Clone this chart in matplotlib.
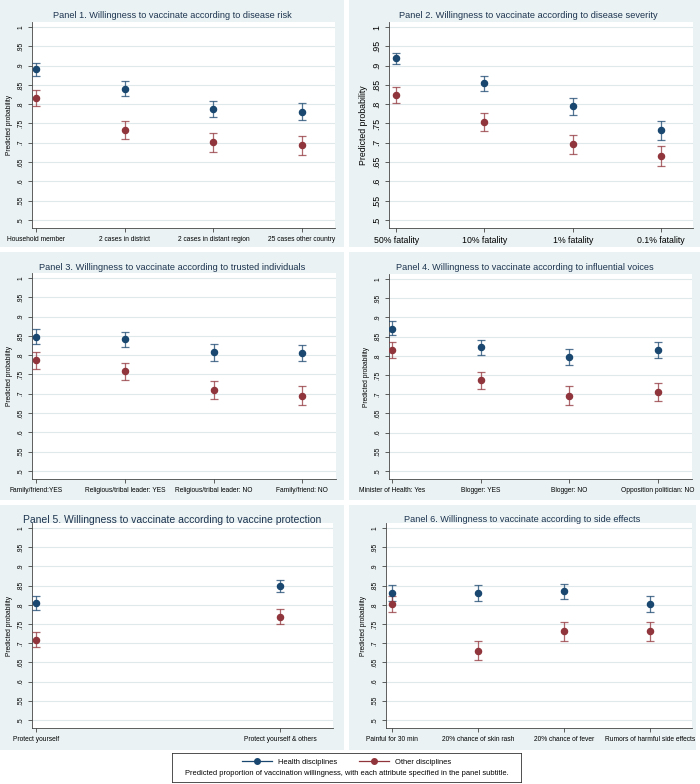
import matplotlib
matplotlib.use("Agg")
import matplotlib.pyplot as plt
from matplotlib.patches import Rectangle
from matplotlib.lines import Line2D

plt.rcParams['font.family'] = ['Liberation Sans', 'DejaVu Sans']

NAVY = '#1a476f'
MAROON = '#90353b'
BG = '#eaf2f3'
GRID = '#dfe8eb'

yticks = [0.5, 0.55, 0.6, 0.65, 0.7, 0.75, 0.8, 0.85, 0.9, 0.95, 1.0]
ytick_labels = ['.5', '.55', '.6', '.65', '.7', '.75', '.8', '.85', '.9', '.95', '1']

titles = [
    'Panel 1. Willingness to vaccinate according to disease risk',
    'Panel 2. Willingness to vaccinate according to disease severity',
    'Panel 3. Willingness to vaccinate according to trusted individuals',
    'Panel 4. Willingness to vaccinate according to influential voices',
    'Panel 5. Willingness to vaccinate according to vaccine protection',
    'Panel 6. Willingness to vaccinate according to side effects',
]

cats = [
    ['Household member', '2 cases in district', '2 cases in distant region', '25 cases other country'],
    ['50% fatality', '10% fatality', '1% fatality', '0.1% fatality'],
    ['Family/friend:YES', 'Religious/tribal leader: YES', 'Religious/tribal leader: NO', 'Family/friend: NO'],
    ['Minister of Health: Yes', 'Blogger: YES', 'Blogger: NO', 'Opposition politician: NO'],
    ['Protect yourself', 'Protect yourself & others'],
    ['Painful for 30 min', '20% chance of skin rash', '20% chance of fever', 'Rumors of harmful side effects'],
]

# health disciplines: estimate, lower, upper
health = [
    [0.890, 0.840, 0.788, 0.780],
    [0.919, 0.854, 0.795, 0.732],
    [0.848, 0.841, 0.807, 0.805],
    [0.871, 0.822, 0.797, 0.816],
    [0.804, 0.848],
    [0.830, 0.830, 0.835, 0.803],
]
health_lo = [
    [0.874, 0.820, 0.766, 0.758],
    [0.905, 0.835, 0.773, 0.708],
    [0.828, 0.822, 0.786, 0.784],
    [0.853, 0.802, 0.775, 0.794],
    [0.786, 0.832],
    [0.811, 0.811, 0.815, 0.781],
]
health_hi = [
    [0.907, 0.859, 0.809, 0.803],
    [0.933, 0.873, 0.817, 0.757],
    [0.867, 0.860, 0.828, 0.826],
    [0.890, 0.842, 0.818, 0.836],
    [0.822, 0.864],
    [0.851, 0.851, 0.854, 0.823],
]
other = [
    [0.815, 0.733, 0.701, 0.693],
    [0.824, 0.755, 0.697, 0.666],
    [0.787, 0.758, 0.711, 0.695],
    [0.815, 0.736, 0.696, 0.705],
    [0.709, 0.769],
    [0.802, 0.680, 0.731, 0.731],
]
other_lo = [
    [0.795, 0.709, 0.677, 0.668],
    [0.804, 0.731, 0.672, 0.640],
    [0.765, 0.735, 0.686, 0.670],
    [0.794, 0.713, 0.671, 0.681],
    [0.689, 0.749],
    [0.780, 0.655, 0.706, 0.706],
]
other_hi = [
    [0.836, 0.756, 0.725, 0.718],
    [0.845, 0.778, 0.721, 0.691],
    [0.809, 0.779, 0.734, 0.719],
    [0.836, 0.759, 0.720, 0.730],
    [0.729, 0.788],
    [0.823, 0.706, 0.754, 0.754],
]

# layout in pixels: background box, plot box (left, top, right, bottom), x limits
bg_boxes = [(0, 0, 344, 247), (349, 0, 700, 247),
            (0, 252, 344, 500), (349, 252, 700, 500),
            (0, 505, 344, 750), (349, 505, 696, 750)]
plot_boxes = [(32, 22, 335, 228), (389, 22, 693, 228),
              (32, 273, 336, 479), (389, 274, 692, 479),
              (32, 523, 333, 728), (386, 523, 692, 728)]
xlims = [(0.955, 4.372), (0.92, 4.36), (0.955, 4.38), (0.966, 4.383),
         (0.984, 2.217), (0.93, 4.49)]
title_fs = [6.6, 6.7, 6.65, 6.6, 7.5, 6.6]
title_dx = [0, 4, 0, 0, 0, 0]
tick_fs = [4.8, 6.3, 4.8, 4.8, 4.8, 4.8]
ylab_fs = [4.8, 6.3, 4.8, 4.8, 4.8, 4.8]

W, H = 700, 784
fig = plt.figure(figsize=(7, 7.84), dpi=100)


def px_axes(box):
    l, t, r, b = box
    return fig.add_axes([l / W, 1 - b / H, (r - l) / W, (b - t) / H])


for i in range(6):
    l, t, r, b = bg_boxes[i]
    fig.patches.append(Rectangle((l / W, 1 - b / H), (r - l) / W, (b - t) / H,
                                 transform=fig.transFigure, facecolor=BG,
                                 edgecolor='none', zorder=-10))

    ax = px_axes(plot_boxes[i])
    ax.set_facecolor('white')
    x = list(range(1, len(cats[i]) + 1))
    for vals, lo, hi, col in [(health[i], health_lo[i], health_hi[i], NAVY),
                              (other[i], other_lo[i], other_hi[i], MAROON)]:
        err = [[v - a for v, a in zip(vals, lo)], [c - v for v, c in zip(vals, hi)]]
        ax.errorbar(x, vals, yerr=err, fmt='none', ecolor=col, elinewidth=0.9,
                    capsize=2.7, capthick=0.9, alpha=0.75, zorder=3)
        ax.plot(x, vals, 'o', color=col, markersize=4.4, zorder=4)

    ax.set_xlim(*xlims[i])
    ax.set_ylim(0.479, 1.013)
    ax.set_yticks(yticks)
    ax.set_yticklabels(ytick_labels, rotation=90, va='center', fontsize=tick_fs[i])
    ax.set_xticks(x)
    ax.set_xticklabels(cats[i], fontsize=tick_fs[i])
    ax.grid(axis='y', color=GRID, linewidth=0.8)
    ax.set_axisbelow(True)
    for s in ['top', 'right']:
        ax.spines[s].set_visible(False)
    for s in ['left', 'bottom']:
        ax.spines[s].set_color('#444444')
        ax.spines[s].set_linewidth(0.6)
    ax.tick_params(length=3, width=0.6, color='#444444', pad=2.5)
    ax.set_ylabel('Predicted probability', fontsize=ylab_fs[i], labelpad=3)
    cx = (l + r) / 2 + title_dx[i]
    fig.text(cx / W, 1 - (t + 15) / H, titles[i], ha='center',
             va='center', fontsize=title_fs[i], color='#1e3550')

# legend box with note
lax = px_axes((172, 753, 521, 782))
lax.set_xticks([])
lax.set_yticks([])
lax.set_facecolor('white')
for s in lax.spines.values():
    s.set_color('#333333')
    s.set_linewidth(0.6)
handles = [Line2D([], [], color=NAVY, marker='o', markersize=4, linewidth=0.9),
           Line2D([], [], color=MAROON, marker='o', markersize=4, linewidth=0.9)]
lax.legend(handles, ['Health disciplines', 'Other disciplines'], ncol=2,
           loc='upper center', bbox_to_anchor=(0.5, 1.04), frameon=False,
           fontsize=5.4, handlelength=4, columnspacing=3)
lax.text(0.5, 0.3, 'Predicted proportion of vaccination willingness, with each attribute specified in the panel subtitle.',
         ha='center', va='center', fontsize=5.4, transform=lax.transAxes)

fig.savefig('out.png', dpi=100, facecolor='white')
